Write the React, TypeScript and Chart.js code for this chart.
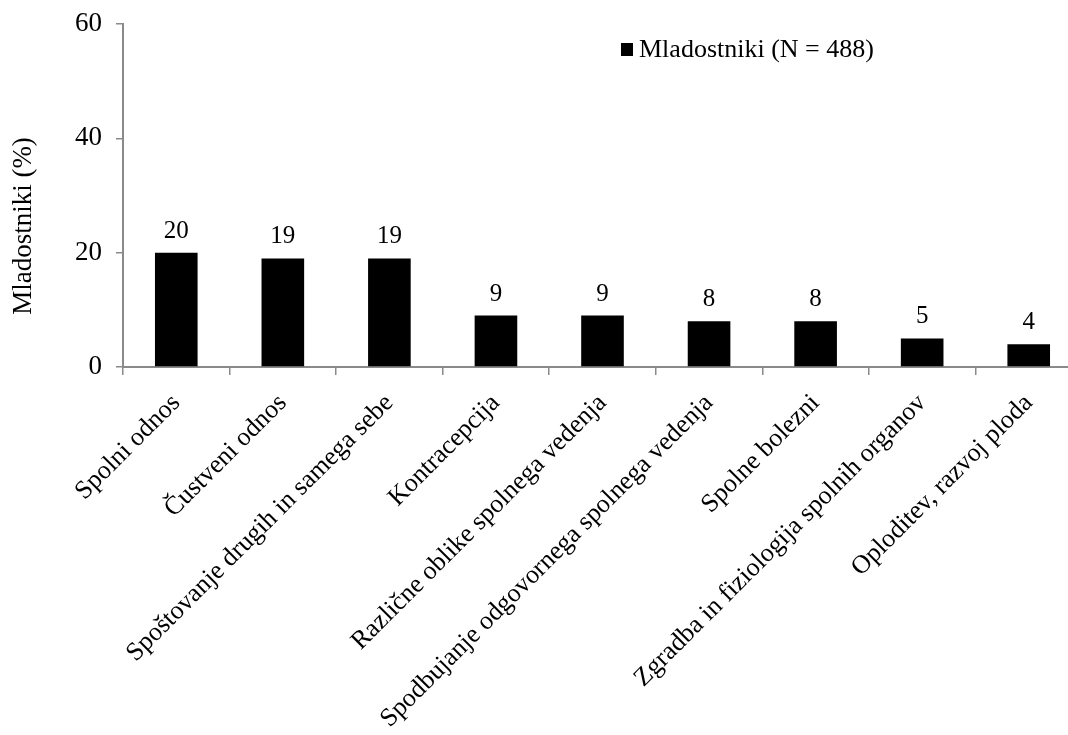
import React, { useEffect, useRef } from 'react';
import { Chart, registerables } from 'chart.js';

Chart.register(...registerables);

const categories = [
  'Spolni odnos',
  'Čustveni odnos',
  'Spoštovanje drugih in samega sebe',
  'Kontracepcija',
  'Različne oblike spolnega vedenja',
  'Spodbujanje odgovornega spolnega vedenja',
  'Spolne bolezni',
  'Zgradba in fiziologija spolnih organov',
  'Oploditev, razvoj ploda',
];
const values = [20, 19, 19, 9, 9, 8, 8, 5, 4];
const yMin = 0;
const yMax = 60;
const yStep = 20;
const seriesLabel = 'Mladostniki (N = 488)';
const yTitle = 'Mladostniki (%)';

const FONT = "'Liberation Serif', 'Times New Roman', serif";
const AXIS = '#8a8a8a';

export default function App() {
  const ref = useRef<HTMLCanvasElement>(null);

  useEffect(() => {
    const canvas = ref.current;
    if (!canvas) return;

    const valueLabels = {
      id: 'valueLabels',
      afterDatasetsDraw(chart: any) {
        const ctx = chart.ctx;
        const meta = chart.getDatasetMeta(0);
        const data = chart.data.datasets[0].data;
        ctx.save();
        ctx.fillStyle = '#000';
        ctx.font = `25px ${FONT}`;
        ctx.textAlign = 'center';
        ctx.textBaseline = 'alphabetic';
        meta.data.forEach((bar: any, i: number) => {
          ctx.fillText(String(data[i]), bar.x, bar.y - 15);
        });
        ctx.restore();
      },
    };

    const legendBox = {
      id: 'legendBox',
      afterDraw(chart: any) {
        const ctx = chart.ctx;
        const ds = chart.data.datasets[0];
        ctx.save();
        ctx.fillStyle = ds.backgroundColor;
        ctx.fillRect(621, 43, 12, 13);
        ctx.fillStyle = '#000';
        ctx.font = `26px ${FONT}`;
        ctx.textAlign = 'left';
        ctx.textBaseline = 'alphabetic';
        ctx.fillText(ds.label, 639, 57);
        ctx.restore();
      },
    };

    const yTitlePlugin = {
      id: 'yTitlePlugin',
      afterDraw(chart: any) {
        const ctx = chart.ctx;
        ctx.save();
        ctx.translate(24, 226);
        ctx.rotate(-Math.PI / 2);
        ctx.fillStyle = '#000';
        ctx.font = `27px ${FONT}`;
        ctx.textAlign = 'center';
        ctx.textBaseline = 'middle';
        ctx.fillText(yTitle, 0, 0);
        ctx.restore();
      },
    };

    const chart = new Chart(canvas, {
      type: 'bar',
      data: {
        labels: categories,
        datasets: [
          {
            label: seriesLabel,
            data: values,
            backgroundColor: '#000000',
            borderWidth: 0,
            barPercentage: 0.8,
            categoryPercentage: 0.5,
          },
        ],
      },
      options: {
        responsive: false,
        animation: false,
        devicePixelRatio: 1,
        layout: { padding: { top: 24, right: 0, bottom: 0, left: 0 } },
        plugins: {
          legend: { display: false },
          tooltip: { enabled: false },
        },
        scales: {
          x: {
            grid: {
              display: true,
              drawOnChartArea: false,
              drawTicks: true,
              tickLength: 8,
              color: AXIS,
              lineWidth: 1.5,
              offset: true,
            },
            border: { display: true, color: AXIS, width: 2 },
            ticks: {
              color: '#000',
              font: { family: FONT, size: 26 },
              maxRotation: 45,
              minRotation: 45,
              autoSkip: false,
              padding: 13,
            },
            afterFit(s: any) {
              s.height = 735 - 367;
              s.paddingLeft = 0;
              s.paddingRight = 0;
            },
          },
          y: {
            min: yMin,
            max: yMax,
            grid: {
              display: true,
              drawOnChartArea: false,
              drawTicks: true,
              tickLength: 7,
              color: AXIS,
              lineWidth: 1.5,
            },
            border: { display: true, color: AXIS, width: 2 },
            ticks: {
              stepSize: yStep,
              color: '#000',
              font: { family: FONT, size: 27 },
              padding: 14,
            },
            afterFit(s: any) {
              s.width = 123;
              s.paddingTop = 0;
              s.paddingBottom = 0;
            },
          },
        },
      },
      plugins: [valueLabels, legendBox, yTitlePlugin],
    });

    return () => chart.destroy();
  }, []);

  return (
    <div
      style={{
        position: 'absolute',
        left: 0,
        top: 0,
        width: 1068,
        height: 735,
        overflow: 'hidden',
        background: '#fff',
      }}
    >
      <canvas ref={ref} width={1082} height={735} style={{ display: 'block' }} />
    </div>
  );
}
